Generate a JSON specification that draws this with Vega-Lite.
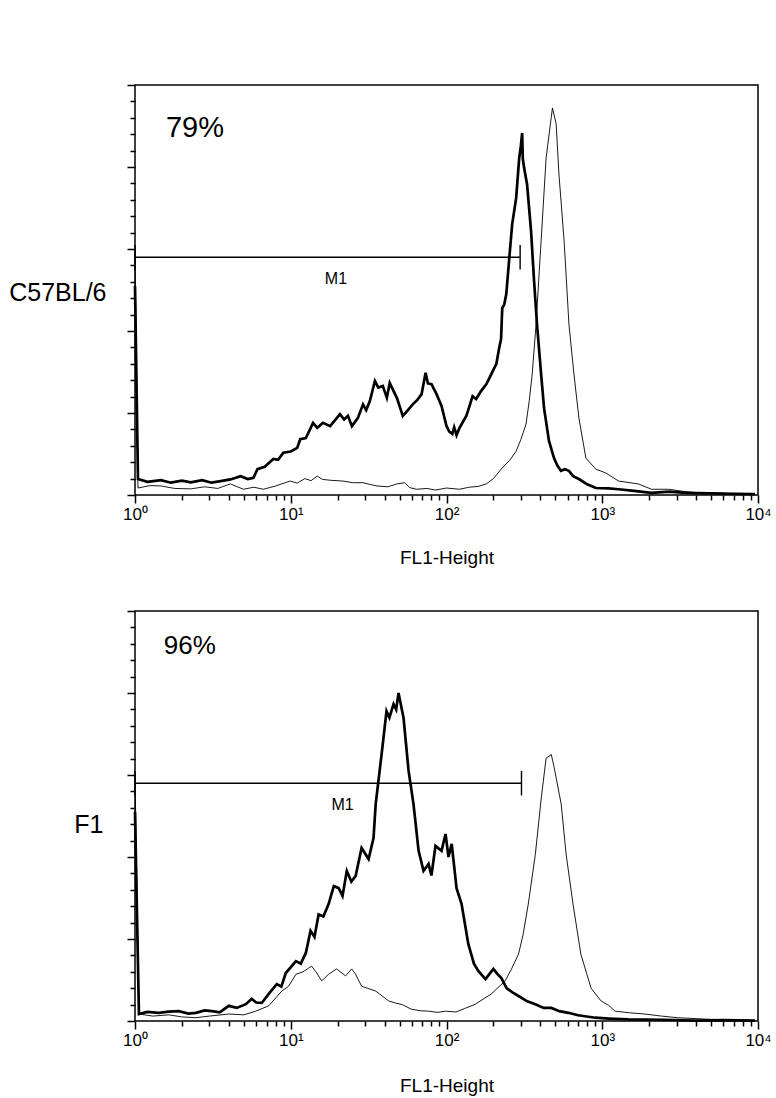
{
  "$schema": "https://vega.github.io/schema/vega-lite/v6.json",
  "background": "white",
  "padding": {"left": 7, "top": 83, "right": 0, "bottom": 0},
  "bounds": "flush",
  "spacing": 116,
  "config": {
    "view": {"stroke": "black", "strokeWidth": 1.5},
    "font": "Liberation Sans",
    "text": {"font": "Liberation Sans", "color": "black"}
  },
  "datasets": {
    "h1": [
      {"s":"sample","fl":1,"n":51},{"s":"sample","fl":1.045,"n":3.9},{"s":"sample","fl":1.2,"n":3.2},{"s":"sample","fl":1.47,"n":3.6},{"s":"sample","fl":1.7,"n":3.0},{"s":"sample","fl":2.0,"n":3.5},{"s":"sample","fl":2.28,"n":3.1},{"s":"sample","fl":2.7,"n":3.6},{"s":"sample","fl":3.1,"n":3.0},{"s":"sample","fl":3.55,"n":3.4},{"s":"sample","fl":4.1,"n":3.8},{"s":"sample","fl":4.76,"n":4.6},{"s":"sample","fl":5.3,"n":3.9},{"s":"sample","fl":5.76,"n":4.2},{"s":"sample","fl":6.11,"n":6.3},{"s":"sample","fl":6.8,"n":6.9},{"s":"sample","fl":7.73,"n":8.8},{"s":"sample","fl":8.3,"n":8.6},{"s":"sample","fl":8.96,"n":10.3},{"s":"sample","fl":10,"n":10.6},{"s":"sample","fl":11.0,"n":11.5},{"s":"sample","fl":11.5,"n":13.6},{"s":"sample","fl":12.5,"n":13.9},{"s":"sample","fl":13.9,"n":17.6},{"s":"sample","fl":14.8,"n":16.4},{"s":"sample","fl":16.1,"n":17.6},{"s":"sample","fl":17.9,"n":16.8},{"s":"sample","fl":19.2,"n":18.2},{"s":"sample","fl":20.7,"n":19.7},{"s":"sample","fl":22,"n":18.4},{"s":"sample","fl":23.3,"n":19.3},{"s":"sample","fl":24.7,"n":16.8},{"s":"sample","fl":27.0,"n":18.8},{"s":"sample","fl":29.1,"n":22.1},{"s":"sample","fl":30.5,"n":20.7},{"s":"sample","fl":32.2,"n":22.9},{"s":"sample","fl":34.7,"n":27.8},{"s":"sample","fl":36.5,"n":26.2},{"s":"sample","fl":39.0,"n":26.6},{"s":"sample","fl":41.4,"n":23.7},{"s":"sample","fl":43.2,"n":27.3},{"s":"sample","fl":48.0,"n":23.7},{"s":"sample","fl":52.4,"n":19.3},{"s":"sample","fl":56,"n":20.5},{"s":"sample","fl":60.7,"n":22.1},{"s":"sample","fl":65,"n":23.2},{"s":"sample","fl":69.2,"n":24.6},{"s":"sample","fl":73.4,"n":29.8},{"s":"sample","fl":76,"n":27.2},{"s":"sample","fl":80.2,"n":27},{"s":"sample","fl":86.3,"n":24.6},{"s":"sample","fl":92.9,"n":21.7},{"s":"sample","fl":100,"n":16.8},{"s":"sample","fl":104,"n":15.5},{"s":"sample","fl":109,"n":14.9},{"s":"sample","fl":112,"n":16.5},{"s":"sample","fl":116,"n":14.6},{"s":"sample","fl":121,"n":16.3},{"s":"sample","fl":134,"n":19.3},{"s":"sample","fl":140,"n":21.5},{"s":"sample","fl":147,"n":24.1},{"s":"sample","fl":155,"n":23.4},{"s":"sample","fl":167,"n":25.4},{"s":"sample","fl":180,"n":27},{"s":"sample","fl":194,"n":29.5},{"s":"sample","fl":209,"n":32},{"s":"sample","fl":218,"n":35.9},{"s":"sample","fl":224,"n":38},{"s":"sample","fl":228,"n":45.6},{"s":"sample","fl":235,"n":46.5},{"s":"sample","fl":242,"n":49},{"s":"sample","fl":253,"n":57.8},{"s":"sample","fl":264,"n":66},{"s":"sample","fl":280,"n":72.4},{"s":"sample","fl":293,"n":82.2},{"s":"sample","fl":300,"n":85},{"s":"sample","fl":306,"n":88.3},{"s":"sample","fl":309,"n":82},{"s":"sample","fl":315,"n":79.8},{"s":"sample","fl":329,"n":75.8},{"s":"sample","fl":349,"n":64.4},{"s":"sample","fl":365,"n":52.2},{"s":"sample","fl":381,"n":41.7},{"s":"sample","fl":405,"n":29.5},{"s":"sample","fl":423,"n":21.2},{"s":"sample","fl":455,"n":13.2},{"s":"sample","fl":490,"n":9.0},{"s":"sample","fl":515,"n":7.2},{"s":"sample","fl":543,"n":5.9},{"s":"sample","fl":575,"n":6.3},{"s":"sample","fl":611,"n":5.9},{"s":"sample","fl":650,"n":4.6},{"s":"sample","fl":708,"n":3.9},{"s":"sample","fl":800,"n":2.6},{"s":"sample","fl":909,"n":1.7},{"s":"sample","fl":1100,"n":1.6},{"s":"sample","fl":1274,"n":1.4},{"s":"sample","fl":1600,"n":1.0},{"s":"sample","fl":2072,"n":0.5},{"s":"sample","fl":2700,"n":0.8},{"s":"sample","fl":3417,"n":0.5},{"s":"sample","fl":5000,"n":0.4},{"s":"sample","fl":7000,"n":0.3},{"s":"sample","fl":9570,"n":0.2},
      {"s":"control","fl":1,"n":60},{"s":"control","fl":1.045,"n":1.7},{"s":"control","fl":1.25,"n":2.3},{"s":"control","fl":1.47,"n":2.2},{"s":"control","fl":1.8,"n":1.6},{"s":"control","fl":2.28,"n":1.5},{"s":"control","fl":2.8,"n":2.0},{"s":"control","fl":3.4,"n":1.6},{"s":"control","fl":4.1,"n":2.7},{"s":"control","fl":4.97,"n":1.4},{"s":"control","fl":5.8,"n":1.9},{"s":"control","fl":6.67,"n":1.4},{"s":"control","fl":8,"n":2.2},{"s":"control","fl":9.9,"n":3.4},{"s":"control","fl":11,"n":2.9},{"s":"control","fl":12.3,"n":4.0},{"s":"control","fl":13.5,"n":3.5},{"s":"control","fl":14.8,"n":4.6},{"s":"control","fl":16,"n":3.8},{"s":"control","fl":17.9,"n":3.6},{"s":"control","fl":21.6,"n":3.4},{"s":"control","fl":25,"n":3.0},{"s":"control","fl":29.1,"n":3.0},{"s":"control","fl":32,"n":2.6},{"s":"control","fl":35.8,"n":2.2},{"s":"control","fl":42,"n":2.0},{"s":"control","fl":48,"n":2.7},{"s":"control","fl":53.9,"n":3.0},{"s":"control","fl":58,"n":1.8},{"s":"control","fl":64.1,"n":1.4},{"s":"control","fl":75,"n":1.6},{"s":"control","fl":85,"n":1.2},{"s":"control","fl":100,"n":1.7},{"s":"control","fl":121,"n":1.4},{"s":"control","fl":140,"n":1.9},{"s":"control","fl":160,"n":2.1},{"s":"control","fl":180,"n":2.7},{"s":"control","fl":200,"n":4.0},{"s":"control","fl":228,"n":6.6},{"s":"control","fl":255,"n":8.5},{"s":"control","fl":280,"n":10.7},{"s":"control","fl":300,"n":13.5},{"s":"control","fl":324,"n":17.3},{"s":"control","fl":340,"n":23},{"s":"control","fl":355,"n":29.5},{"s":"control","fl":376,"n":41.7},{"s":"control","fl":405,"n":62},{"s":"control","fl":436,"n":82.2},{"s":"control","fl":479,"n":94.4},{"s":"control","fl":506,"n":90.5},{"s":"control","fl":527,"n":78.3},{"s":"control","fl":569,"n":62},{"s":"control","fl":611,"n":41.7},{"s":"control","fl":658,"n":29.5},{"s":"control","fl":708,"n":18.8},{"s":"control","fl":785,"n":9.0},{"s":"control","fl":909,"n":6.3},{"s":"control","fl":1052,"n":5.4},{"s":"control","fl":1274,"n":3.4},{"s":"control","fl":1706,"n":2.7},{"s":"control","fl":2072,"n":1.4},{"s":"control","fl":2654,"n":1.4},{"s":"control","fl":3300,"n":0.9},{"s":"control","fl":4305,"n":0.5},{"s":"control","fl":6000,"n":0.4},{"s":"control","fl":9020,"n":0.2}
    ],
    "h2": [
      {"s":"sample","fl":1,"n":51},{"s":"sample","fl":1.06,"n":1.7},{"s":"sample","fl":1.2,"n":2.2},{"s":"sample","fl":1.42,"n":2.0},{"s":"sample","fl":1.65,"n":2.3},{"s":"sample","fl":1.91,"n":2.4},{"s":"sample","fl":2.2,"n":1.8},{"s":"sample","fl":2.46,"n":2.0},{"s":"sample","fl":2.8,"n":2.6},{"s":"sample","fl":3.12,"n":2.4},{"s":"sample","fl":3.5,"n":2.1},{"s":"sample","fl":4.0,"n":3.7},{"s":"sample","fl":4.5,"n":3.2},{"s":"sample","fl":5.15,"n":4.1},{"s":"sample","fl":5.62,"n":5.4},{"s":"sample","fl":6.0,"n":4.5},{"s":"sample","fl":6.52,"n":4.4},{"s":"sample","fl":7.22,"n":6.6},{"s":"sample","fl":8.13,"n":9.0},{"s":"sample","fl":8.7,"n":8.4},{"s":"sample","fl":9.29,"n":11.7},{"s":"sample","fl":10.8,"n":14.6},{"s":"sample","fl":11.6,"n":14.0},{"s":"sample","fl":12.5,"n":16.6},{"s":"sample","fl":13.4,"n":22},{"s":"sample","fl":14.2,"n":20.5},{"s":"sample","fl":15.1,"n":26},{"s":"sample","fl":16.2,"n":25.5},{"s":"sample","fl":17.5,"n":28.5},{"s":"sample","fl":18.9,"n":32.9},{"s":"sample","fl":20.3,"n":32.4},{"s":"sample","fl":21.5,"n":30.5},{"s":"sample","fl":22.9,"n":36.6},{"s":"sample","fl":24.5,"n":34},{"s":"sample","fl":26.1,"n":35.4},{"s":"sample","fl":28.5,"n":42.2},{"s":"sample","fl":31.6,"n":39.5},{"s":"sample","fl":34.0,"n":44.6},{"s":"sample","fl":35.1,"n":52.9},{"s":"sample","fl":38.3,"n":65},{"s":"sample","fl":41.2,"n":75.6},{"s":"sample","fl":43,"n":74},{"s":"sample","fl":45.7,"n":77.3},{"s":"sample","fl":47.5,"n":76},{"s":"sample","fl":49.2,"n":80},{"s":"sample","fl":53.0,"n":73.9},{"s":"sample","fl":57.1,"n":61},{"s":"sample","fl":61.4,"n":52.9},{"s":"sample","fl":66.2,"n":41.5},{"s":"sample","fl":71.2,"n":36.6},{"s":"sample","fl":76.7,"n":38.3},{"s":"sample","fl":80,"n":35.5},{"s":"sample","fl":85,"n":42.7},{"s":"sample","fl":92.9,"n":41.5},{"s":"sample","fl":98.6,"n":45.6},{"s":"sample","fl":103,"n":40},{"s":"sample","fl":108,"n":43.2},{"s":"sample","fl":116,"n":32.4},{"s":"sample","fl":125,"n":28.5},{"s":"sample","fl":138,"n":18.8},{"s":"sample","fl":150,"n":14.0},{"s":"sample","fl":160,"n":12.2},{"s":"sample","fl":178,"n":10.2},{"s":"sample","fl":200,"n":12.7},{"s":"sample","fl":212,"n":11.5},{"s":"sample","fl":225,"n":10.5},{"s":"sample","fl":243,"n":8.0},{"s":"sample","fl":265,"n":7.0},{"s":"sample","fl":290,"n":6.1},{"s":"sample","fl":330,"n":4.8},{"s":"sample","fl":372,"n":4.1},{"s":"sample","fl":420,"n":3.2},{"s":"sample","fl":471,"n":3.2},{"s":"sample","fl":530,"n":2.4},{"s":"sample","fl":606,"n":2.0},{"s":"sample","fl":700,"n":1.4},{"s":"sample","fl":902,"n":0.8},{"s":"sample","fl":1100,"n":0.6},{"s":"sample","fl":1468,"n":0.4},{"s":"sample","fl":2500,"n":0.3},{"s":"sample","fl":3945,"n":0.1},{"s":"sample","fl":6000,"n":0.2},{"s":"sample","fl":9570,"n":0.1},
      {"s":"control","fl":1,"n":60},{"s":"control","fl":1.06,"n":1.7},{"s":"control","fl":1.3,"n":1.2},{"s":"control","fl":1.65,"n":1.5},{"s":"control","fl":2.0,"n":1.0},{"s":"control","fl":2.46,"n":0.8},{"s":"control","fl":3.0,"n":1.2},{"s":"control","fl":4.0,"n":1.7},{"s":"control","fl":5.0,"n":1.5},{"s":"control","fl":5.96,"n":2.4},{"s":"control","fl":7.22,"n":3.7},{"s":"control","fl":8.76,"n":7.3},{"s":"control","fl":9.7,"n":8.5},{"s":"control","fl":10.8,"n":11.4},{"s":"control","fl":12,"n":12.0},{"s":"control","fl":13.6,"n":13.4},{"s":"control","fl":14.5,"n":12.0},{"s":"control","fl":15.8,"n":9.8},{"s":"control","fl":17.5,"n":11.4},{"s":"control","fl":19.7,"n":12.7},{"s":"control","fl":22.5,"n":11},{"s":"control","fl":24.6,"n":12.7},{"s":"control","fl":26,"n":11.5},{"s":"control","fl":28.5,"n":8.5},{"s":"control","fl":31,"n":8.0},{"s":"control","fl":35.1,"n":7.3},{"s":"control","fl":42.5,"n":4.9},{"s":"control","fl":46.9,"n":4.4},{"s":"control","fl":52,"n":4.0},{"s":"control","fl":59.3,"n":2.9},{"s":"control","fl":68,"n":2.5},{"s":"control","fl":76.7,"n":2.4},{"s":"control","fl":88,"n":2.1},{"s":"control","fl":98.6,"n":2.4},{"s":"control","fl":115,"n":2.2},{"s":"control","fl":130,"n":3.0},{"s":"control","fl":153,"n":4.1},{"s":"control","fl":194,"n":6.6},{"s":"control","fl":238,"n":9.8},{"s":"control","fl":260,"n":12.5},{"s":"control","fl":290,"n":16.3},{"s":"control","fl":310,"n":21},{"s":"control","fl":335,"n":28.5},{"s":"control","fl":372,"n":40.7},{"s":"control","fl":406,"n":54.4},{"s":"control","fl":436,"n":64.1},{"s":"control","fl":471,"n":65},{"s":"control","fl":490,"n":62},{"s":"control","fl":506,"n":59.3},{"s":"control","fl":545,"n":52.9},{"s":"control","fl":586,"n":40.7},{"s":"control","fl":649,"n":28.5},{"s":"control","fl":729,"n":16.3},{"s":"control","fl":848,"n":8},{"s":"control","fl":982,"n":4.9},{"s":"control","fl":1100,"n":3.8},{"s":"control","fl":1208,"n":2.4},{"s":"control","fl":1500,"n":2.0},{"s":"control","fl":1878,"n":1.7},{"s":"control","fl":2400,"n":1.2},{"s":"control","fl":3055,"n":0.8},{"s":"control","fl":5000,"n":0.4},{"s":"control","fl":9570,"n":0.1}
    ]
  },
  "vconcat": [
    {
      "width": 623, "height": 410,
      "layer": [
        {
          "data": {"name": "h1"},
          "mark": {"type": "line", "color": "black"},
          "encoding": {
            "x": {"field": "fl", "type": "quantitative", "scale": {"type": "log", "domain": [1, 10000], "nice": false},
              "axis": {"title": "FL1-Height", "tickCount": 500, "values": [1,2,3,4,5,6,7,8,9,10,20,30,40,50,60,70,80,90,100,200,300,400,500,600,700,800,900,1000,2000,3000,4000,5000,6000,7000,8000,9000,10000],
                "labelExpr": "datum.value == 1 ? '10⁰' : datum.value == 10 ? '10¹' : datum.value == 100 ? '10²' : datum.value == 1000 ? '10³' : datum.value == 10000 ? '10⁴' : ''",
                "labelFont": "Liberation Sans", "labelFontSize": 17, "labelColor": "black", "labelOverlap": false, "labelFlush": false, "labelBound": false, "labelPadding": 3,
                "tickColor": "black", "tickWidth": 1.5,
                "tickSize": {"condition": {"test": "datum.value == 1 || datum.value == 10 || datum.value == 100 || datum.value == 1000 || datum.value == 10000", "value": 8}, "value": 5},
                "domain": false, "grid": false,
                "titleFont": "Liberation Sans", "titleFontSize": 19, "titleFontWeight": "normal", "titleColor": "black", "titlePadding": 26}},
            "y": {"field": "n", "type": "quantitative", "scale": {"domain": [0, 100], "nice": false},
              "axis": {"title": "C57BL/6", "tickCount": 500, "values": [0,4,8,12,16,20,24,28,32,36,40,44,48,52,56,60,64,68,72,76,80,84,88,92,96,100],
                "labels": false, "domain": false, "grid": false, "tickColor": "black", "tickWidth": 1.5,
                "tickSize": {"condition": {"test": "datum.value % 20 == 0", "value": 8}, "value": 5},
                "titleAngle": 0, "titleAlign": "right", "titleBaseline": "middle", "titleX": -29, "titleY": 207,
                "titleFont": "Liberation Sans", "titleFontSize": 25, "titleFontWeight": "normal", "titleColor": "black"}},
            "detail": {"field": "s", "type": "nominal"},
            "strokeWidth": {"field": "s", "type": "nominal", "scale": {"domain": ["control", "sample"], "range": [0.9, 2.7]}, "legend": null}
          }
        },
        {
          "data": {"values": [{"a": 1, "b": 297, "y": 58}]},
          "mark": {"type": "rule", "color": "black", "strokeWidth": 1.4},
          "encoding": {
            "x": {"field": "a", "type": "quantitative", "scale": {"type": "log"}},
            "x2": {"field": "b"},
            "y": {"field": "y", "type": "quantitative"}
          }
        },
        {
          "data": {"values": [{"a": 1, "y1": 55, "y2": 61}, {"a": 297, "y1": 55, "y2": 61}]},
          "mark": {"type": "rule", "color": "black", "strokeWidth": 1.4},
          "encoding": {
            "x": {"field": "a", "type": "quantitative", "scale": {"type": "log"}},
            "y": {"field": "y1", "type": "quantitative"},
            "y2": {"field": "y2"}
          }
        },
        {
          "data": {"values": [{"a": 19.5, "y": 52.7, "t": "M1"}]},
          "mark": {"type": "text", "baseline": "middle", "align": "center", "fontSize": 16},
          "encoding": {
            "x": {"field": "a", "type": "quantitative", "scale": {"type": "log"}},
            "y": {"field": "y", "type": "quantitative"},
            "text": {"field": "t"}
          }
        },
        {
          "data": {"values": [{"a": 1.58, "y": 89.4, "t": "79%"}]},
          "mark": {"type": "text", "baseline": "middle", "align": "left", "fontSize": 29},
          "encoding": {
            "x": {"field": "a", "type": "quantitative", "scale": {"type": "log"}},
            "y": {"field": "y", "type": "quantitative"},
            "text": {"field": "t"}
          }
        }
      ]
    },
    {
      "width": 623, "height": 410,
      "layer": [
        {
          "data": {"name": "h2"},
          "mark": {"type": "line", "color": "black"},
          "encoding": {
            "x": {"field": "fl", "type": "quantitative", "scale": {"type": "log", "domain": [1, 10000], "nice": false},
              "axis": {"title": "FL1-Height", "tickCount": 500, "values": [1,2,3,4,5,6,7,8,9,10,20,30,40,50,60,70,80,90,100,200,300,400,500,600,700,800,900,1000,2000,3000,4000,5000,6000,7000,8000,9000,10000],
                "labelExpr": "datum.value == 1 ? '10⁰' : datum.value == 10 ? '10¹' : datum.value == 100 ? '10²' : datum.value == 1000 ? '10³' : datum.value == 10000 ? '10⁴' : ''",
                "labelFont": "Liberation Sans", "labelFontSize": 17, "labelColor": "black", "labelOverlap": false, "labelFlush": false, "labelBound": false, "labelPadding": 3,
                "tickColor": "black", "tickWidth": 1.5,
                "tickSize": {"condition": {"test": "datum.value == 1 || datum.value == 10 || datum.value == 100 || datum.value == 1000 || datum.value == 10000", "value": 8}, "value": 5},
                "domain": false, "grid": false,
                "titleFont": "Liberation Sans", "titleFontSize": 19, "titleFontWeight": "normal", "titleColor": "black", "titlePadding": 28}},
            "y": {"field": "n", "type": "quantitative", "scale": {"domain": [0, 100], "nice": false},
              "axis": {"title": "F1", "tickCount": 500, "values": [0,4,8,12,16,20,24,28,32,36,40,44,48,52,56,60,64,68,72,76,80,84,88,92,96,100],
                "labels": false, "domain": false, "grid": false, "tickColor": "black", "tickWidth": 1.5,
                "tickSize": {"condition": {"test": "datum.value % 20 == 0", "value": 8}, "value": 5},
                "titleAngle": 0, "titleAlign": "right", "titleBaseline": "middle", "titleX": -32, "titleY": 213,
                "titleFont": "Liberation Sans", "titleFontSize": 25, "titleFontWeight": "normal", "titleColor": "black"}},
            "detail": {"field": "s", "type": "nominal"},
            "strokeWidth": {"field": "s", "type": "nominal", "scale": {"domain": ["control", "sample"], "range": [0.9, 2.7]}, "legend": null}
          }
        },
        {
          "data": {"values": [{"a": 1, "b": 303, "y": 58}]},
          "mark": {"type": "rule", "color": "black", "strokeWidth": 1.4},
          "encoding": {
            "x": {"field": "a", "type": "quantitative", "scale": {"type": "log"}},
            "x2": {"field": "b"},
            "y": {"field": "y", "type": "quantitative"}
          }
        },
        {
          "data": {"values": [{"a": 1, "y1": 55, "y2": 61}, {"a": 303, "y1": 55, "y2": 61}]},
          "mark": {"type": "rule", "color": "black", "strokeWidth": 1.4},
          "encoding": {
            "x": {"field": "a", "type": "quantitative", "scale": {"type": "log"}},
            "y": {"field": "y1", "type": "quantitative"},
            "y2": {"field": "y2"}
          }
        },
        {
          "data": {"values": [{"a": 21.5, "y": 52.7, "t": "M1"}]},
          "mark": {"type": "text", "baseline": "middle", "align": "center", "fontSize": 16},
          "encoding": {
            "x": {"field": "a", "type": "quantitative", "scale": {"type": "log"}},
            "y": {"field": "y", "type": "quantitative"},
            "text": {"field": "t"}
          }
        },
        {
          "data": {"values": [{"a": 1.53, "y": 91.5, "t": "96%"}]},
          "mark": {"type": "text", "baseline": "middle", "align": "left", "fontSize": 26},
          "encoding": {
            "x": {"field": "a", "type": "quantitative", "scale": {"type": "log"}},
            "y": {"field": "y", "type": "quantitative"},
            "text": {"field": "t"}
          }
        }
      ]
    }
  ]
}
